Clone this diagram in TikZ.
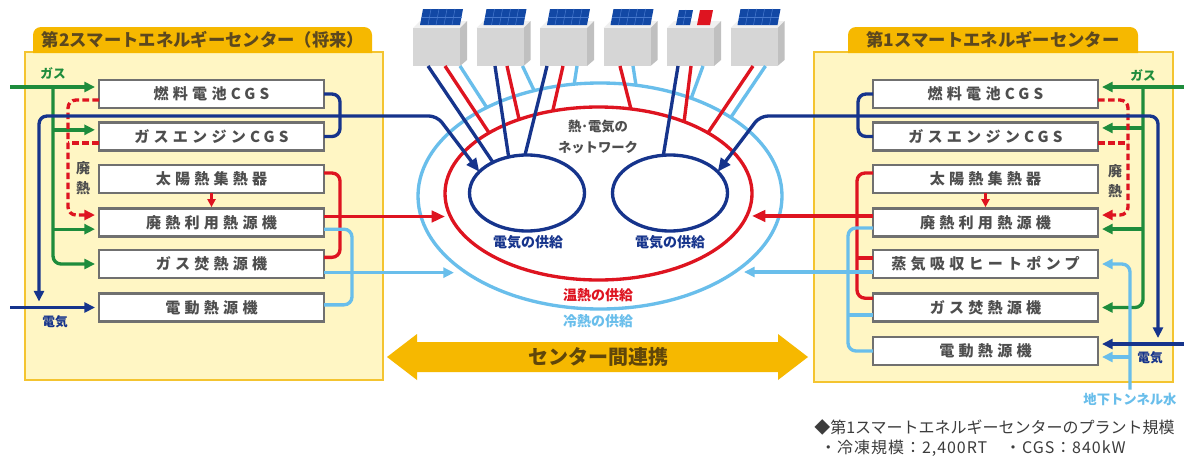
\documentclass[tikz,border=0pt]{standalone}
\usepackage{fontspec}
\usetikzlibrary{arrows.meta,shapes.geometric,calc}
\newfontfamily\jp{Noto Sans CJK JP}
\newfontfamily\jpsp{Noto Sans CJK JP}[LetterSpace=28]
\newfontfamily\jpnote{Noto Sans CJK JP}[LetterSpace=6]
\definecolor{elecblue}{RGB}{22,52,140}
\definecolor{hotred}{RGB}{222,20,32}
\definecolor{coldblue}{RGB}{105,190,235}
\definecolor{gasgreen}{RGB}{30,140,60}
\definecolor{amber}{RGB}{246,184,0}
\definecolor{panelfill}{RGB}{255,246,196}
\definecolor{panelline}{RGB}{244,196,48}
\definecolor{boxline}{RGB}{112,112,112}
\definecolor{boxtext}{RGB}{78,78,78}
\definecolor{tabtext}{RGB}{92,72,30}
\definecolor{linktext}{RGB}{96,70,10}
\definecolor{spectext}{RGB}{60,60,60}
\definecolor{bldfront}{RGB}{214,214,214}
\definecolor{bldside}{RGB}{192,192,192}
\definecolor{bldtop}{RGB}{240,240,240}
\definecolor{pv}{RGB}{18,72,165}
\definecolor{pvgrid}{RGB}{70,120,205}
\tikzset{
  unitbox/.style={draw=boxline,line width=2.1pt,fill=white,minimum width=168.75pt,
    minimum height=21pt,inner sep=0pt,outer sep=0pt,
    font=\jpsp\bfseries\fontsize{11.3}{12}\selectfont,text=boxtext},
  pipe/.style={line width=2.5pt,rounded corners=6pt},
  elecline/.style={pipe,draw=elecblue},
  heatline/.style={pipe,draw=hotred},
  coldline/.style={pipe,draw=coldblue},
  gasline/.style={pipe,draw=gasgreen},
  wasteline/.style={heatline,dash pattern=on 5pt off 2.5pt},
  arr/.style={-{Triangle[length=8pt,width=7.5pt]},shorten >=3pt},
  bigarr/.style={-{Triangle[length=10pt,width=8.5pt]}},
  smallarr/.style={-{Triangle[length=6pt,width=6pt]},shorten >=1pt},
  ringshape/.style={ellipse,inner sep=0pt,outer sep=0pt,line width=2.5pt},
  lbl/.style={font=\jp\bfseries\fontsize{9.5}{10}\selectfont,inner sep=0pt},
  supply/.style={font=\jp\bfseries\fontsize{10.5}{11}\selectfont,inner sep=0pt},
  tabtitle/.style={font=\jp\bfseries\fontsize{13}{14}\selectfont,text=tabtext,inner sep=0pt},
  panel/.style={fill=panelfill,draw=panelline,line width=2pt}
}
\begin{document}
\begin{tikzpicture}[x=0.75pt,y=-0.75pt]
\useasboundingbox (0,0) rectangle (1184,457);
\fill[white] (0,0) rectangle (1184,457);

% ---------- panels ----------
\draw[panel] (25,52) rectangle (383,380);
\fill[amber] (33,53) [rounded corners=6pt]-- (33,27) -- (372,27) [sharp corners]-- (372,53) -- cycle;
\node[tabtitle] (tabL) at (203,40) {第2スマートエネルギーセンター（将来）};

\draw[panel] (814,52) rectangle (1173,382);
\fill[amber] (848,53) [rounded corners=6pt]-- (848,27) -- (1138,27) [sharp corners]-- (1138,53) -- cycle;
\node[tabtitle] (tabR) at (993,40) {第1スマートエネルギーセンター};

% ---------- buildings with solar panels ----------
\foreach \i/\x in {1/413,2/476.5,3/540,4/603.5,5/667,6/730.5}{
  \fill[bldtop] (\x,28) -- (\x+7,21) -- (\x+54,21) -- (\x+47,28) -- cycle;
  \fill[bldside] (\x+47,28) -- (\x+54,21) -- (\x+54,60) -- (\x+47,66) -- cycle;
  \node[fill=bldfront,minimum width=35.25pt,minimum height=28.5pt,inner sep=0pt,outer sep=0pt] (b\i) at (\x+23.5,47) {};
}
\foreach \x in {413,476.5,540,603.5,730.5}{
  \fill[pv] (\x+7,25) -- (\x+47,25) -- (\x+50,9) -- (\x+10,9) -- cycle;
  \foreach \f in {0.2,0.4,0.6,0.8}
    \draw[pvgrid,line width=0.4pt] (\x+7+40*\f,25) -- (\x+10+40*\f,9);
  \draw[pvgrid,line width=0.4pt] (\x+8.5,17) -- (\x+48.5,17);
}
\fill[pv] (676,25) -- (690,25) -- (693,10) -- (679,10) -- cycle;
\draw[pvgrid,line width=0.4pt] (683,25) -- (686,10) (677.5,17.5) -- (691.5,17.5);
\fill[hotred] (697,25) -- (710,25) -- (713,10) -- (700,10) -- cycle;

% ---------- network rings ----------
\node[ringshape,draw=coldblue,minimum width=273pt,minimum height=169.5pt] (cold) at (600,196) {};
\foreach \b/\dx/\a in {b1/47/142,b2/46/122,b3/37/103,b4/29.5/72,b5/36/47,b6/35/31}
  \draw[coldline] ($(\b.south west)+(\dx,0)$) -- (cold.\a);

\node[ringshape,draw=hotred,minimum width=230.25pt,minimum height=129.75pt] (hot) at (598.5,193.5) {};
\foreach \b/\dx/\a in {b1/32/151,b2/30.5/137,b3/23/119,b4/16.5/69,b5/24/40,b6/22.5/29}
  \draw[heatline] ($(\b.south west)+(\dx,0)$) -- (hot.\a);

\node[ringshape,draw=elecblue,minimum width=86.25pt,minimum height=57pt] (eL) at (527,193) {};
\node[ringshape,draw=elecblue,minimum width=86.25pt,minimum height=57pt] (eR) at (670,193) {};
\draw[elecline] ($(b1.south west)+(15,0)$) -- (eL.138);
\draw[elecline] ($(b2.south west)+(18.5,0)$) -- (eL.117);
\draw[elecline] ($(b3.south west)+(7,0)$) -- (eL.93);
\draw[elecline] ($(b5.south west)+(11,0)$) -- (eR.100);

\node[font=\jp\bfseries\fontsize{10}{15.5}\selectfont,text=boxtext,align=center,inner sep=0pt] (net) at (598,137) {熱･電気の\\ネットワーク};
\node[supply,text=elecblue] (supL) at (528,242) {電気の供給};
\node[supply,text=elecblue] (supR) at (670,242) {電気の供給};
\node[supply,text=hotred] (suphot) at (598,295) {温熱の供給};
\node[supply,text=coldblue] (supcold) at (598,321) {冷熱の供給};

% ---------- link arrow between the centers ----------
\fill[amber] (387,357) -- (417,334) -- (417,342) -- (778,342) -- (778,334) -- (808,357)
  -- (778,380) -- (778,372) -- (417,372) -- (417,380) -- cycle;
\node[font=\jp\bfseries\fontsize{15}{16}\selectfont,text=linktext,inner sep=0pt] (link) at (598,357) {センター間連携};

% ---------- second center (left) ----------
\node[unitbox] (L1) at (211.5,94) {燃料電池CGS};
\node[unitbox] (L2) at (211.5,136.5) {ガスエンジンCGS};
\node[unitbox] (L3) at (211.5,179) {太陽熱集熱器};
\node[unitbox] (L4) at (211.5,222.5) {廃熱利用熱源機};
\node[unitbox] (L5) at (211.5,264) {ガス焚熱源機};
\node[unitbox] (L6) at (211.5,307.5) {電動熱源機};

% gas
\coordinate (gasL) at (10,87);
\coordinate (gasLv) at (53,87);
\coordinate (L2g) at ([yshift=5pt]L2.west);
\coordinate (L4g) at ([yshift=-5pt]L4.west);
\draw[gasline,arr] (gasL) -- (gasL -| L1.west);
\draw[gasline,arr] (gasLv) |- (L5.west);
\draw[gasline,arr] (L2g -| gasLv) -- (L2g);
\draw[gasline,arr] (L4g -| gasLv) -- (L4g);
\node[lbl,text=gasgreen] (gasLtxt) at (53,73) {ガス};

% waste heat
\draw[wasteline,arr] ([yshift=-4.5pt]L1.west) -- ++(-31,0) |- ([yshift=5.6pt]L4.west);
\draw[wasteline] ([yshift=-4.9pt]L2.west) -- ++(-31,0);
\draw[wasteline,smallarr] (L3.south) -- (L4.north);
\node[lbl,text=boxtext,align=center,font=\jp\bfseries\fontsize{10.5}{15}\selectfont] (wasteL) at (83,178) {廃\\熱};

% heat
\coordinate (L4h) at ([yshift=4.5pt]L4.east);
\draw[heatline] ([yshift=4.5pt]L3.east) -- ++(16,0) |- ([yshift=5pt]L5.east);
\draw[heatline,bigarr] (L4h) -- (L4h -| hot.west);

% cold
\coordinate (L5c) at ([yshift=-6.5pt]L5.east);
\coordinate (cLend) at ([xshift=30pt]cold.west);
\draw[coldline] ([yshift=-5pt]L4.east) -- ++(28,0) |- ([yshift=2pt]L6.east);
\draw[coldline,arr] (L5c) -- (cLend |- L5c);

% electricity
\coordinate (busL) at (39,116);
\coordinate (kneeL) at (437,116);
\coordinate (elinL) at (10,307.5);
\draw[elecline] (L1.east) -- ++(16,0) |- (L2.east);
\draw[elecline,{Triangle[length=8pt,width=7.5pt]}-{Triangle[length=10pt,width=8.5pt]},shorten <=4.5pt]
  (busL |- L6.west) -- (busL) -- (kneeL) -- (eL.156);
\draw[elecline,arr] (elinL) -- (L6.west);
\node[lbl,text=elecblue] (elLtxt) at (55,322) {電気};

% ---------- first center (right) ----------
\node[unitbox] (R1) at (985.5,94) {燃料電池CGS};
\node[unitbox] (R2) at (985.5,136.5) {ガスエンジンCGS};
\node[unitbox] (R3) at (985.5,179) {太陽熱集熱器};
\node[unitbox] (R4) at (985.5,222.5) {廃熱利用熱源機};
\node[unitbox] (R5) at (985.5,264) {蒸気吸収ヒートポンプ};
\node[unitbox] (R6) at (985.5,307.5) {ガス焚熱源機};
\node[unitbox] (R7) at (985.5,351) {電動熱源機};

% gas
\coordinate (gasR) at (1184,87);
\coordinate (gasRv) at (1143,87);
\coordinate (R2g) at ([yshift=6.4pt]R2.east);
\coordinate (R4g) at ([yshift=-4.9pt]R4.east);
\draw[gasline,arr] (gasR) -- (gasR -| R1.east);
\draw[gasline,arr] (gasRv) |- (R6.east);
\draw[gasline,arr] (R2g -| gasRv) -- (R2g);
\draw[gasline,arr] (R4g -| gasRv) -- (R4g);
\node[lbl,text=gasgreen] (gasRtxt) at (1143,75) {ガス};

% waste heat
\draw[wasteline,arr] ([yshift=-4.5pt]R1.east) -- ++(30,0) |- ([yshift=5.6pt]R4.east);
\draw[wasteline] ([yshift=-4.9pt]R2.east) -- ++(30,0);
\draw[wasteline,smallarr] (R3.south) -- (R4.north);
\node[lbl,text=boxtext,align=center,font=\jp\bfseries\fontsize{10.5}{15}\selectfont] (wasteR) at (1115,181) {廃\\熱};

% heat
\coordinate (redR) at (857,173);
\coordinate (R5h) at ([yshift=4.5pt]R5.west);
\coordinate (R4h) at ([yshift=4.9pt]R4.west);
\draw[heatline] ([yshift=4.5pt]R3.west) -- ++(-16,0) |- ([yshift=7pt]R6.west);
\draw[heatline] (R5h -| redR) -- (R5h);
\draw[heatline,bigarr] (R4h) -- (R4h -| hot.east);

% cold
\coordinate (cvR) at (848,228);
\coordinate (R6c) at ([yshift=-5.6pt]R6.west);
\coordinate (R5c) at ([yshift=-6pt]R5.west);
\coordinate (cRend) at ([xshift=-31.5pt]cold.east);
\draw[coldline] ([yshift=-4.1pt]R4.west) -- ++(-25,0) |- (R7.west);
\draw[coldline] (R6c -| cvR) -- (R6c);
\draw[coldline,arr] (R5c) -- (cRend |- R5c);

% underground tunnel water
\node[lbl,text=coldblue,font=\jp\bfseries\fontsize{10}{11}\selectfont] (tunnel) at (1130,399) {地下トンネル水};
\coordinate (R7c) at ([yshift=-4.5pt]R7.east);
\draw[coldline,arr] ([yshift=2pt]tunnel.north) |- (R5.east);
\draw[coldline,arr] (R7c -| tunnel.north) -- (R7c);

% electricity
\coordinate (busR) at (1158,116);
\coordinate (kneeR) at (760,116);
\coordinate (R7e) at ([yshift=5.25pt]R7.east);
\coordinate (elinR) at (1184,344);
\draw[elecline] (R1.west) -- ++(-15,0) |- (R2.west);
\draw[elecline,{Triangle[length=8pt,width=7.5pt]}-{Triangle[length=10pt,width=8.5pt]},shorten <=4.5pt]
  (busR |- R7e) -- (busR) -- (kneeR) -- (eR.24);
\draw[elecline,arr] (elinR) -- (R7e);
\node[lbl,text=elecblue] (elRtxt) at (1150,358) {電気};

% ---------- plant scale note ----------
\node[anchor=west,font=\jp\fontsize{12}{14}\selectfont,text=spectext,inner sep=0pt] (spec1) at (814,427) {◆第1スマートエネルギーセンターのプラント規模};
\node[anchor=west,font=\jpnote\fontsize{12}{14}\selectfont,text=spectext,inner sep=0pt] (spec2) at (820,448) {・冷凍規模：2,400RT　・CGS：840kW};
\end{tikzpicture}
\end{document}
